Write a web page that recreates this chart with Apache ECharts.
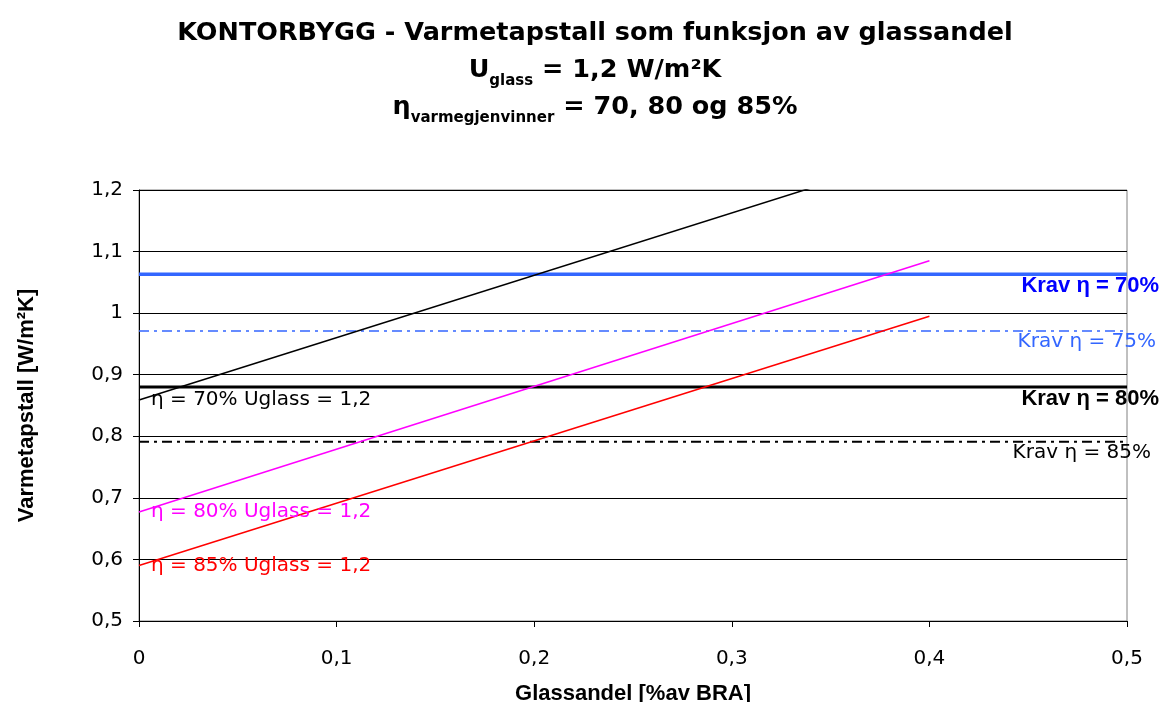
<!DOCTYPE html>
<html>
<head>
<meta charset="utf-8" />
<script src="https://cdn.jsdelivr.net/npm/echarts@6/dist/echarts.min.js"></script>
<style>
  * { margin: 0; padding: 0; }
  body { background: #fff; }
  #chart { width: 1163px; height: 702px; }
</style>
</head>
<body>
<div id="chart"></div>
<script>
// glassandel (x) og varmetapstall (y) for hver virkningsgrad
const glassShare = [0, 0.4];
const eta70 = [0.859, 1.264];
const eta80 = [0.677, 1.085];
const eta85 = [0.59, 0.995];

// krav-linjer (horisontale)
const kravSpan = [0, 0.5];
const krav70 = 1.063;
const krav75 = 0.971;
const krav80 = 0.88;
const krav85 = 0.791;

const xTicks = [0, 0.1, 0.2, 0.3, 0.4, 0.5];
const yTicks = [0.5, 0.6, 0.7, 0.8, 0.9, 1, 1.1, 1.2];

const comma = (v) => String(+(+v).toFixed(1)).replace(".", ",");

// linje med tekst ved startpunktet
function etaSeries(name, ys, color) {
  return {
    name: name,
    type: "line",
    showSymbol: true,
    symbol: "circle",
    symbolSize: 0,
    lineStyle: { color: color, width: 1.5 },
    itemStyle: { color: color },
    data: glassShare.map((x, i) =>
      i === 0
        ? {
            value: [x, ys[i]],
            label: {
              show: true,
              position: "right",
              distance: 12,
              formatter: name,
              color: color,
              fontFamily: "DejaVu Sans",
              fontSize: 20,
            },
          }
        : [x, ys[i]]
    ),
    z: 3,
  };
}

// horisontal kravlinje med tekst til høyre
function kravSeries(name, y, color, width, type, labelColor, bold, shift) {
  return {
    name: name,
    type: "line",
    showSymbol: true,
    symbol: "circle",
    symbolSize: 0,
    lineStyle: { color: color, width: width, type: type },
    itemStyle: { color: color },
    data: kravSpan.map((x, i) =>
      i === kravSpan.length - 1
        ? {
            value: [x, y],
            label: {
              show: true,
              position: "bottom",
              distance: 1,
              align: "right",
              offset: [shift, 0],
              formatter: name,
              color: labelColor,
              fontFamily: bold ? "Liberation Sans" : "DejaVu Sans",
              fontWeight: bold ? "bold" : "normal",
              fontSize: bold ? 22 : 20,
            },
          }
        : [x, y]
    ),
    z: 2,
  };
}

const chart = echarts.init(document.getElementById("chart"));
chart.setOption({
  animation: false,
  title: {
    left: 595,
    top: 15,
    textAlign: "center",
    padding: 0,
    text:
      "{m|KONTORBYGG - Varmetapstall som funksjon av glassandel}\n" +
      "{m|U}{s|glass}{m| = 1,2 W/m²K}\n" +
      "{m|η}{s|varmegjenvinner}{m| = 70, 80 og 85%}",
    textStyle: {
      fontFamily: "DejaVu Sans",
      fontWeight: "bold",
      fontSize: 25,
      color: "#000",
      lineHeight: 37,
      rich: {
        m: {
          fontFamily: "DejaVu Sans",
          fontWeight: "bold",
          fontSize: 25.5,
          lineHeight: 37,
          color: "#000",
        },
        s: {
          fontFamily: "DejaVu Sans",
          fontWeight: "bold",
          fontSize: 15,
          lineHeight: 20,
          verticalAlign: "bottom",
          color: "#000",
        },
      },
    },
  },
  grid: {
    left: 139,
    right: 36,
    top: 190,
    bottom: 81,
    outerBoundsMode: "none",
    show: true,
    borderColor: "#808080",
    borderWidth: 1,
  },
  xAxis: {
    type: "value",
    min: xTicks[0],
    max: xTicks[xTicks.length - 1],
    interval: 0.1,
    name: "Glassandel [%av BRA]",
    nameLocation: "middle",
    nameGap: 62,
    nameTextStyle: {
      fontFamily: "Liberation Sans",
      fontWeight: "bold",
      fontSize: 22,
      color: "#000",
    },
    axisLine: { lineStyle: { color: "#000", width: 1 } },
    axisTick: { show: true, length: 6, lineStyle: { color: "#000" } },
    axisLabel: {
      margin: 28,
      fontFamily: "DejaVu Sans",
      fontSize: 20,
      color: "#000",
      formatter: comma,
    },
    splitLine: { show: false },
  },
  yAxis: {
    type: "value",
    min: yTicks[0],
    max: yTicks[yTicks.length - 1],
    interval: 0.1,
    name: "Varmetapstall [W/m²K]",
    nameLocation: "middle",
    nameGap: 101,
    nameRotate: 90,
    nameTextStyle: {
      fontFamily: "Liberation Sans",
      fontWeight: "bold",
      fontSize: 22,
      color: "#000",
    },
    axisLine: { show: true, lineStyle: { color: "#000", width: 1 } },
    axisTick: { show: true, length: 6, lineStyle: { color: "#000" } },
    axisLabel: {
      margin: 16,
      fontFamily: "DejaVu Sans",
      fontSize: 20,
      color: "#000",
      formatter: comma,
    },
    splitLine: { show: true, lineStyle: { color: "#000", width: 1 } },
  },
  series: [
    kravSeries("Krav η = 70%", krav70, "#3366ff", 3.5, "solid", "#0000ff", true, 32),
    kravSeries("Krav η = 75%", krav75, "#3366ff", 1.5, [10, 5, 3, 5], "#3366ff", false, 29),
    kravSeries("Krav η = 80%", krav80, "#000", 3, "solid", "#000", true, 32),
    kravSeries("Krav η = 85%", krav85, "#000", 2, [10, 5, 3, 5], "#000", false, 24),
    etaSeries("η = 70% Uglass = 1,2", eta70, "#000"),
    etaSeries("η = 80% Uglass = 1,2", eta80, "#ff00ff"),
    etaSeries("η = 85% Uglass = 1,2", eta85, "#ff0000"),
  ],
});
</script>
</body>
</html>
